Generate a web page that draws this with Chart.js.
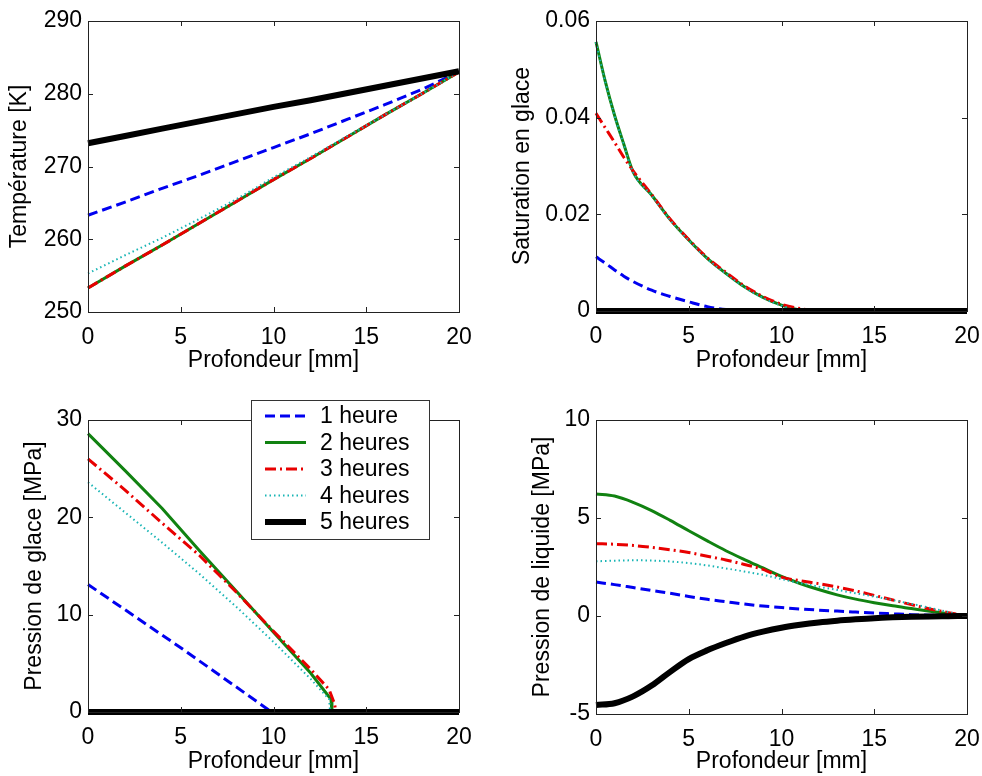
<!DOCTYPE html>
<html>
<head>
<meta charset="utf-8">
<script src="https://cdn.jsdelivr.net/npm/chart.js@4.4.0/dist/chart.umd.min.js"></script>
<style>
  body { margin: 0; background: #fff; }
  #wrap { position: relative; width: 982px; height: 776px; }
  canvas { position: absolute; }
</style>
</head>
<body>
<div id="wrap">
  <canvas id="temp" width="491" height="388" style="left:0;top:0"></canvas>
  <canvas id="sat" width="491" height="388" style="left:491px;top:0"></canvas>
  <canvas id="pglace" width="491" height="388" style="left:0;top:388px"></canvas>
  <canvas id="pliq" width="491" height="388" style="left:491px;top:388px"></canvas>
</div>
<script>
// series names (legend)
const labels = ['1 heure', '2 heures', '3 heures', '4 heures', '5 heures'];

// temperature [K] vs depth [mm]
const tempDepth = [0, 2, 4, 6, 8, 10, 12, 14, 16, 18, 20];
const tempH1 = [263.3, 265.1, 267.0, 268.8, 270.7, 272.6, 274.5, 276.5, 278.5, 280.6, 283.0];
const tempH2 = [253.3, 256.3, 259.2, 262.2, 265.2, 268.2, 271.1, 274.1, 277.1, 280.0, 283.0];
const tempH3 = [253.3, 256.3, 259.2, 262.2, 265.2, 268.2, 271.1, 274.1, 277.1, 280.0, 283.0];
const tempH4 = [255.3, 257.8, 260.2, 262.8, 265.5, 268.5, 271.3, 274.2, 277.1, 280.0, 283.0];
const tempH5 = [273.2, 274.2, 275.2, 276.2, 277.2, 278.2, 279.1, 280.1, 281.1, 282.1, 283.1];

// ice saturation vs depth
const satDepth = [0, 0.5, 1, 1.5, 2, 3, 4, 5, 6, 7, 8, 9, 10, 11, 12, 14, 16, 18, 20];
const satH1 = [0.0112, 0.0099, 0.0085, 0.0072, 0.0061, 0.0043, 0.0030, 0.0019, 0.0009, 0.0003, 0, 0, 0, 0, 0, 0, 0, 0, 0];
const satH2 = [0.0557, 0.0475, 0.0405, 0.0345, 0.0288, 0.0240, 0.0189, 0.0147, 0.0109, 0.0078, 0.0050, 0.0028, 0.0012, 0.0002, 0, 0, 0, 0, 0];
const satH3 = [0.0409, 0.0379, 0.0349, 0.0318, 0.0290, 0.0241, 0.0190, 0.0148, 0.0110, 0.0080, 0.0052, 0.0030, 0.0014, 0.0005, 0, 0, 0, 0, 0];
const satH4 = [0.0556, 0.0474, 0.0404, 0.0344, 0.0287, 0.0239, 0.0188, 0.0146, 0.0108, 0.0077, 0.0049, 0.0027, 0.0011, 0.0001, 0, 0, 0, 0, 0];
const satH5 = [0, 0, 0, 0, 0, 0, 0, 0, 0, 0, 0, 0, 0, 0, 0, 0, 0, 0, 0];

// ice pressure [MPa] vs depth, each curve has its own depths (vertical drop)
const pgDepth1 = [0, 5, 9.9, 20];
const pgH1 = [13.1, 6.6, 0, 0];
const pgDepth2 = [0, 2, 4, 6, 8, 10, 12, 13.1, 13.15, 20];
const pgH2 = [28.6, 24.8, 20.9, 16.6, 12.4, 8.2, 4.0, 1.3, 0, 0];
const pgDepth3 = [0, 2, 4, 6, 7, 8, 10, 12, 13, 13.3, 13.35, 20];
const pgH3 = [26.0, 22.8, 19.4, 16.1, 14.2, 12.3, 8.3, 4.4, 2.3, 0.8, 0, 0];
const pgDepth4 = [0, 2, 4, 6, 8, 10, 12, 13, 13.05, 20];
const pgH4 = [23.6, 20.5, 17.4, 14.2, 10.8, 7.2, 3.4, 1.3, 0, 0];
const pgDepth5 = [0, 20];
const pgH5 = [0, 0];

// liquid pressure [MPa] vs depth
const plDepth = [0, 1, 2, 3, 4, 5, 6, 7, 8, 9, 10, 11, 12, 13, 14, 15, 16, 17, 18, 19, 20];
const plH1 = [1.73, 1.6, 1.45, 1.3, 1.16, 1.0, 0.85, 0.73, 0.61, 0.51, 0.43, 0.36, 0.3, 0.25, 0.2, 0.15, 0.11, 0.07, 0.04, 0.02, 0];
const plH2 = [6.23, 6.12, 5.8, 5.38, 4.88, 4.35, 3.83, 3.33, 2.88, 2.45, 2.02, 1.66, 1.35, 1.08, 0.86, 0.68, 0.52, 0.38, 0.24, 0.11, 0];
const plH3 = [3.69, 3.66, 3.6, 3.5, 3.38, 3.24, 3.05, 2.86, 2.63, 2.38, 1.98, 1.8, 1.65, 1.48, 1.28, 1.05, 0.82, 0.58, 0.36, 0.17, 0];
const plH4 = [2.79, 2.82, 2.84, 2.83, 2.78, 2.7, 2.58, 2.43, 2.27, 2.1, 1.88, 1.68, 1.5, 1.33, 1.16, 0.99, 0.81, 0.62, 0.42, 0.2, 0];
const plH5 = [-4.54, -4.45, -4.1, -3.55, -2.85, -2.2, -1.75, -1.38, -1.05, -0.8, -0.6, -0.45, -0.33, -0.24, -0.17, -0.11, -0.07, -0.04, -0.02, -0.01, 0];

// line styles (matlab b--, g-, r-., c:, k-)
const colors = ['#0000f0', '#118211', '#e80000', '#19b5b5', '#000000'];
const dashes = [[10, 5], [], [11, 4, 2, 4], [1.5, 3], []];
const widths = [3, 3, 3, 2, 6];

Chart.defaults.font.family = '"Liberation Sans", Arial, sans-serif';
Chart.defaults.font.size = 23;
Chart.defaults.color = '#000';

// box around the axes with inward ticks on all four sides
const frame = {
  id: 'frame',
  afterDatasetsDraw(chart) {
    const { ctx, chartArea: a, scales: { x, y } } = chart;
    const t = 5;
    ctx.save();
    ctx.strokeStyle = '#222';
    ctx.lineWidth = 1;
    ctx.strokeRect(Math.round(a.left) + 0.5, Math.round(a.top) + 0.5, Math.round(a.width), Math.round(a.height));
    ctx.beginPath();
    x.ticks.forEach(tk => {
      const px = Math.round(x.getPixelForValue(tk.value)) + 0.5;
      ctx.moveTo(px, a.bottom); ctx.lineTo(px, a.bottom - t);
      ctx.moveTo(px, a.top); ctx.lineTo(px, a.top + t);
    });
    y.ticks.forEach(tk => {
      const py = Math.round(y.getPixelForValue(tk.value)) + 0.5;
      ctx.moveTo(a.left, py); ctx.lineTo(a.left + t, py);
      ctx.moveTo(a.right, py); ctx.lineTo(a.right - t, py);
    });
    ctx.stroke();
    ctx.restore();
  }
};

// legend box as in the matlab figure
const legendBox = {
  id: 'legendBox',
  afterDraw(chart, args, opts) {
    const { ctx } = chart;
    ctx.save();
    ctx.fillStyle = '#fff';
    ctx.fillRect(opts.x, opts.y, opts.w, opts.h);
    ctx.strokeStyle = '#333';
    ctx.lineWidth = 1;
    ctx.strokeRect(opts.x + 0.5, opts.y + 0.5, opts.w, opts.h);
    ctx.font = '23px "Liberation Sans", Arial, sans-serif';
    ctx.textBaseline = 'middle';
    chart.data.datasets.forEach((ds, i) => {
      const cy = opts.y + 16 + i * 26.5;
      ctx.beginPath();
      ctx.strokeStyle = ds.borderColor;
      ctx.lineWidth = ds.borderWidth;
      ctx.setLineDash(ds.borderDash);
      ctx.moveTo(opts.x + 14, cy);
      ctx.lineTo(opts.x + 55, cy);
      ctx.stroke();
      ctx.setLineDash([]);
      ctx.fillStyle = '#000';
      ctx.fillText(ds.label, opts.x + 69, cy + 1);
    });
    ctx.restore();
  }
};

function panel(id, o) {
  const datasets = o.series.map((ys, i) => ({
    label: labels[i],
    data: ys.map((v, k) => ({ x: o.depths[i][k], y: v })),
    borderColor: colors[i],
    borderDash: dashes[i],
    borderWidth: widths[i],
    pointRadius: 0,
    fill: false,
    tension: 0,
    cubicInterpolationMode: o.smooth ? 'monotone' : 'default',
    order: 4 - i,
    clip: 6
  }));
  const plugins = [frame];
  if (o.legend) plugins.push(legendBox);
  new Chart(document.getElementById(id), {
    type: 'line',
    data: { datasets },
    options: {
      responsive: false,
      animation: false,
      events: [],
      layout: { padding: { left: 0, top: o.top, right: o.right, bottom: 0 } },
      plugins: {
        legend: { display: false },
        tooltip: { enabled: false },
        legendBox: o.legend || {}
      },
      scales: {
        x: {
          type: 'linear', min: 0, max: 20,
          ticks: { stepSize: 5, padding: 12, maxRotation: 0 },
          grid: { display: false, drawTicks: false },
          border: { display: false },
          title: { display: true, text: 'Profondeur [mm]', padding: { top: 0, bottom: o.xTitlePad } },
          afterFit: s => { s.height = o.xh; s.paddingLeft = 0; s.paddingRight = 0; }
        },
        y: {
          type: 'linear', min: o.ymin, max: o.ymax,
          ticks: { stepSize: o.step, padding: 6 },
          grid: { display: false, drawTicks: false },
          border: { display: false },
          title: { display: true, text: o.ytitle, padding: { top: o.yTitlePad, bottom: 0 } },
          afterFit: s => { s.width = o.yw; s.paddingTop = 0; s.paddingBottom = 0; }
        }
      }
    },
    plugins
  });
}

panel('temp', {
  series: [tempH1, tempH2, tempH3, tempH4, tempH5],
  depths: [tempDepth, tempDepth, tempDepth, tempDepth, tempDepth],
  ymin: 250, ymax: 290, step: 10, ytitle: 'Température [K]',
  top: 21, right: 32, yw: 88, xh: 76, xTitlePad: 14, yTitlePad: 6
});
panel('sat', {
  series: [satH1, satH2, satH3, satH4, satH5],
  depths: [satDepth, satDepth, satDepth, satDepth, satDepth],
  ymin: 0, ymax: 0.06, step: 0.02, ytitle: 'Saturation en glace', smooth: true,
  top: 21, right: 15, yw: 105, xh: 77, xTitlePad: 14, yTitlePad: 18
});
panel('pglace', {
  series: [pgH1, pgH2, pgH3, pgH4, pgH5],
  depths: [pgDepth1, pgDepth2, pgDepth3, pgDepth4, pgDepth5],
  ymin: 0, ymax: 30, step: 10, ytitle: 'Pression de glace [MPa]',
  top: 32, right: 32, yw: 88, xh: 64, xTitlePad: 1, yTitlePad: 21,
  legend: { x: 251, y: 12, w: 178, h: 139 }
});
panel('pliq', {
  series: [plH1, plH2, plH3, plH4, plH5],
  depths: [plDepth, plDepth, plDepth, plDepth, plDepth],
  ymin: -5, ymax: 10, step: 5, ytitle: 'Pression de liquide [MPa]', smooth: true,
  top: 32, right: 15, yw: 105, xh: 62, xTitlePad: 1, yTitlePad: 38
});
</script>
</body>
</html>
